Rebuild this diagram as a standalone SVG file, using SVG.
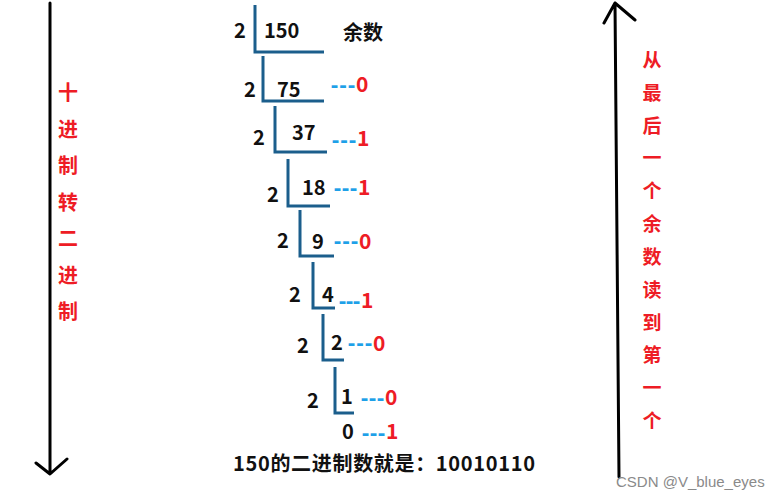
<svg xmlns="http://www.w3.org/2000/svg" width="779" height="500" viewBox="0 0 779 500">
<style>
.n{font-family:"Noto Sans CJK SC","Noto Sans",sans-serif;font-weight:bold;font-size:20px;fill:#111}
.r{font-family:"Noto Sans CJK SC","Noto Sans",sans-serif;font-weight:bold;font-size:21px;fill:#ee1c25}
.d{font-family:"Noto Sans","Noto Sans CJK SC",sans-serif;font-weight:bold;font-size:22px;fill:#1ea0e8}
.v{font-family:"Noto Sans CJK SC",sans-serif;font-weight:bold;font-size:20px;fill:#ee1c25;text-anchor:middle}
.lad{fill:none;stroke:#1b5e8c;stroke-width:3}
.arr{fill:none;stroke:#000;stroke-width:3;stroke-linecap:round;stroke-linejoin:round}
</style>
<rect width="779" height="500" fill="#fff"/>
<g id="connectors">
<path class="arr" d="M50,3 V473 M36,463 L50,474 L67,459"/>
<path class="arr" d="M619,477 L615,3 M604,23 L615,3 L635,20"/>
</g>
<g id="ladder">
<path class="lad" d="M255,5 V52 H324"/>
<path class="lad" d="M263,56 V101 H324"/>
<path class="lad" d="M275,106 V152 H327"/>
<path class="lad" d="M288,159 V206 H330"/>
<path class="lad" d="M300,210 V256 H334"/>
<path class="lad" d="M313,262 V308 H335"/>
<path class="lad" d="M323,314 V360 H344"/>
<path class="lad" d="M335,367 V413 H354"/>
</g>
<g id="step1">
<text class="n" x="234" y="38">2</text>
<text class="n" x="264" y="38">150</text>
<text class="n" x="343" y="40">余数</text>
</g>
<g id="step2">
<text class="n" x="244" y="97">2</text>
<text class="n" x="277" y="97">75</text>
<text class="d" x="331" y="92" textLength="24">---</text>
<text class="r" x="356" y="92">0</text>
</g>
<g id="step3">
<text class="n" x="253" y="145">2</text>
<text class="n" x="292" y="140">37</text>
<text class="d" x="332" y="147" textLength="24">---</text>
<text class="r" x="357" y="146">1</text>
</g>
<g id="step4">
<text class="n" x="267" y="202">2</text>
<text class="n" x="302" y="195">18</text>
<text class="d" x="334" y="195" textLength="23">---</text>
<text class="r" x="358" y="195">1</text>
</g>
<g id="step5">
<text class="n" x="277" y="248">2</text>
<text class="n" x="312" y="249">9</text>
<text class="d" x="334" y="248" textLength="24">---</text>
<text class="r" x="359" y="249">0</text>
</g>
<g id="step6">
<text class="n" x="289" y="302">2</text>
<text class="n" x="322" y="302">4</text>
<text class="d" x="339" y="308" textLength="21">---</text>
<text class="r" x="361" y="308">1</text>
</g>
<g id="step7">
<text class="n" x="297" y="353">2</text>
<text class="n" x="331" y="350">2</text>
<text class="d" x="348" y="350" textLength="24">---</text>
<text class="r" x="373" y="351">0</text>
</g>
<g id="step8">
<text class="n" x="307" y="408">2</text>
<text class="n" x="341" y="404">1</text>
<text class="d" x="361" y="405" textLength="23">---</text>
<text class="r" x="385" y="405">0</text>
</g>
<g id="final">
<text class="n" x="342" y="439">0</text>
<text class="d" x="362" y="440" textLength="23">---</text>
<text class="r" x="386" y="439">1</text>
</g>
<g id="result">
<text class="n" x="233" y="471" font-size="21" textLength="302">150的二进制数就是：10010110</text>
</g>
<g id="left-label">
<text class="v" x="68" y="100">十</text>
<text class="v" x="68" y="137">进</text>
<text class="v" x="68" y="173">制</text>
<text class="v" x="68" y="210">转</text>
<text class="v" x="68" y="246">二</text>
<text class="v" x="68" y="283">进</text>
<text class="v" x="68" y="319">制</text>
</g>
<g id="right-label">
<text class="v" x="652" y="67" style="font-size:19px">从</text>
<text class="v" x="652" y="100" style="font-size:19px">最</text>
<text class="v" x="652" y="133" style="font-size:19px">后</text>
<text class="v" x="652" y="165" style="font-size:19px">一</text>
<text class="v" x="652" y="198" style="font-size:19px">个</text>
<text class="v" x="652" y="231" style="font-size:19px">余</text>
<text class="v" x="652" y="264" style="font-size:19px">数</text>
<text class="v" x="652" y="297" style="font-size:19px">读</text>
<text class="v" x="652" y="330" style="font-size:19px">到</text>
<text class="v" x="652" y="362" style="font-size:19px">第</text>
<text class="v" x="652" y="395" style="font-size:19px">一</text>
<text class="v" x="652" y="428" style="font-size:19px">个</text>
</g>
<g id="watermark">
<text x="616" y="487" font-family="Liberation Sans,sans-serif" font-size="15" fill="#8a8a8a">CSDN @V_blue_eyes</text>
</g>
</svg>
